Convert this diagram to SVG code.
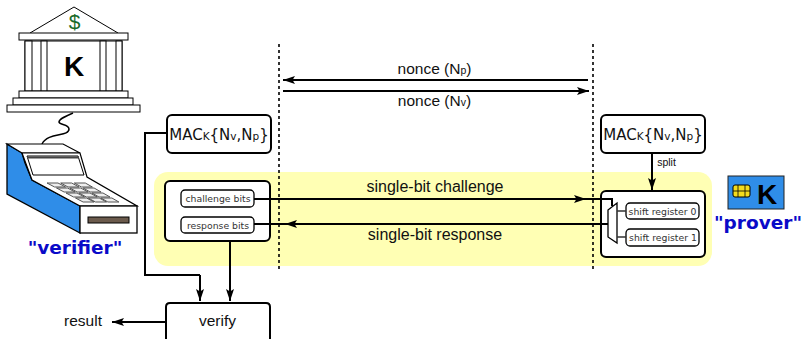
<svg xmlns="http://www.w3.org/2000/svg" width="801" height="339" viewBox="0 0 801 339">
<defs>
<marker id="ah" markerUnits="userSpaceOnUse" markerWidth="14" markerHeight="10" refX="12" refY="5" orient="auto"><path d="M0,1 L12,5 L0,9 L2.500,5 Z" fill="#000"/></marker>
</defs>
<style>
text{font-family:"DejaVu Sans",sans-serif;fill:#111}
.a{font-family:"Liberation Sans",sans-serif;font-size:15.500px;text-anchor:middle}
.box{fill:#fff;stroke:#000;stroke-width:2}
.sm{fill:#fff;stroke:#000;stroke-width:1.3}
.c{fill:none;stroke:#000;stroke-width:2}
.t{font-size:9.300px;text-anchor:middle;fill:#333}
.mac{font-size:15px;text-anchor:middle}
.s{fill:#fff;stroke:#000;stroke-width:1}
.dash{stroke:#000;stroke-width:1.6;stroke-dasharray:3 3;fill:none}
.lab{font-weight:bold;font-size:18.500px;fill:#0a0ac8;text-anchor:middle}
.k{font-family:"Liberation Sans",sans-serif;font-weight:bold;font-size:28px;text-anchor:middle;fill:#000}
</style>
<rect x="154" y="172" width="558" height="94" rx="14" fill="#ffffb4"/>
<g id="lifelines">
<path class="dash" d="M279,44V270"/>
<path class="dash" d="M593,44V270"/>
</g>
<g id="bank">
<path d="M30,33 L74,7 L118,33" fill="#fff" stroke="#000" stroke-width="1"/>
<text x="74.500" y="29" font-size="21" text-anchor="middle" style="fill:#1a6b2a;font-family:'Liberation Sans',sans-serif">$</text>
<rect class="s" x="25" y="41" width="97" height="50"/>
<rect class="s" x="25" y="41" width="7" height="50"/>
<rect class="s" x="41" y="41" width="6" height="50"/>
<rect class="s" x="100" y="41" width="6" height="50"/>
<rect class="s" x="116" y="41" width="6" height="50"/>
<rect class="s" x="19" y="33" width="109" height="7"/>
<rect class="s" x="19" y="91" width="109" height="7"/>
<rect class="s" x="13" y="98" width="120" height="7"/>
<rect class="s" x="7" y="105" width="133" height="7"/>
<text class="k" x="74" y="76">K</text>
</g>
<path id="cord" class="c" style="stroke-width:1.500" d="M73,113 C66,116 59,119 59,122 C59,125 69,124 69,129 C69,137 48,132 42,144"/>
<g id="terminal">
<path d="M7,144 L22,153 L25,163 L32,180 L80,206 V233 L7,194 Z" fill="#2f8de8" stroke="#000" stroke-width="1.300"/>
<path d="M7,144 L63,144 L80,153 L22,153 Z" fill="#fff" stroke="#000" stroke-width="1.200"/>
<path d="M22,153 L80,153 L87,177 L137,206 L80,206 L32,180 Z" fill="#fff" stroke="#000" stroke-width="1.200"/>
<path d="M27,156 L78,156 L84,175 L33,175 Z" fill="#fff" stroke="#000" stroke-width="1"/>
<path d="M27,157.500 L79,157.500" stroke="#444" stroke-width="2"/>
<path fill="#eee" stroke="#555" stroke-width="1" d="M47,183H58L65.600,187H54.600ZM60.700,183H71.700L79,187H68ZM74.300,183H85.300L92.400,187H81.400ZM56.500,188H67.500L75.100,192H64.100ZM69.800,188H80.800L88.100,192H77.100ZM83.100,188H94.100L101.100,192H90.100ZM66,193H77L84.600,197H73.600ZM79,193H90L97.300,197H86.300ZM92,193H103L110,197H99ZM75.500,198H86.500L94.100,202H83.100ZM88.200,198H99.200L106.500,202H95.500ZM100.900,198H111.900L118.900,202H107.900Z"/>
<rect x="80" y="206" width="57" height="27" fill="#fff" stroke="#000" stroke-width="1.300"/>
<rect x="88" y="217" width="41" height="6" fill="#6b5a4c" stroke="#000" stroke-width="1"/>
<text class="lab" x="75" y="254">"verifier"</text>
</g>
<g id="mac-v">
<rect class="box" x="167" y="115" width="104" height="38" rx="5"/>
<text class="mac" x="219" y="140">MAC<tspan font-size="10.500">K</tspan>{N<tspan font-size="10.500">v</tspan>,N<tspan font-size="10.500">p</tspan>}</text>
</g>
<g id="mac-p">
<rect class="box" x="601" y="115" width="104" height="38" rx="5"/>
<text class="mac" x="653" y="140">MAC<tspan font-size="10.500">K</tspan>{N<tspan font-size="10.500">v</tspan>,N<tspan font-size="10.500">p</tspan>}</text>
</g>
<g id="bits">
<rect class="box" x="165" y="181" width="105" height="60" rx="5"/>
<rect class="sm" x="181" y="190" width="73" height="17" rx="4"/>
<text class="t" x="218" y="201.500">challenge bits</text>
<rect class="sm" x="181" y="217" width="73" height="16" rx="4"/>
<text class="t" x="218" y="228.500">response bits</text>
</g>
<g id="registers">
<rect class="box" x="601" y="191" width="104" height="66" rx="5"/>
<rect class="sm" x="626" y="203" width="73" height="16" rx="4"/>
<text class="t" x="662.500" y="214.500">shift register 0</text>
<rect class="sm" x="626" y="229" width="73" height="17" rx="4"/>
<text class="t" x="663" y="240.500">shift register 1</text>
</g>
<g id="verify">
<path class="box" d="M166,339 V307 Q166,303 170,303 H266 Q270,303 270,307 V339"/>
<text class="a" x="217.500" y="326">verify</text>
</g>
<g id="card">
<rect x="728" y="176" width="56" height="33" fill="#2f8de8" stroke="#222" stroke-width="1"/>
<rect x="733" y="185" width="17" height="12" rx="2" fill="#f3dc1d" stroke="#000" stroke-width="1"/>
<path d="M738,185 V197 M745,185 V197 M733,191 H750" stroke="#000" stroke-width="0.800"/>
<text class="k" x="767" y="204">K</text>
<text class="lab" x="758" y="229">"prover"</text>
</g>
<g id="connectors">
<path class="c" marker-end="url(#ah)" d="M588,80 H283"/>
<path class="c" marker-end="url(#ah)" d="M283,91 H589"/>
<path class="c" d="M254,199 H612 V206"/>
<path class="c" marker-end="url(#ah)" d="M570,199 H586"/>
<path class="c" d="M608,224 H254"/>
<path class="c" marker-end="url(#ah)" d="M300,224 H285"/>
<path class="c" d="M167,133 H145 V275 H200"/>
<path class="c" marker-end="url(#ah)" d="M200,275 V301"/>
<path class="c" marker-end="url(#ah)" d="M230,241 V301"/>
<path class="c" marker-end="url(#ah)" d="M166,322 H112"/>
<path class="c" marker-end="url(#ah)" d="M652,153 V190"/>
<path d="M608,210 L617,203 V243 L608,237 Z" fill="#fff" stroke="#000" stroke-width="1.300"/>
<path d="M617,211 H626 M617,237 H626" stroke="#333" stroke-width="1.500" fill="none"/>
</g>
<g id="labels">
<text class="a" x="434.500" y="74">nonce (N<tspan font-size="10.500">p</tspan>)</text>
<text class="a" x="434.500" y="106">nonce (N<tspan font-size="10.500">v</tspan>)</text>
<text class="a" x="435" y="192" style="font-size:16px">single-bit challenge</text>
<text class="a" x="435" y="240" style="font-size:16px">single-bit response</text>
<text class="a" x="83" y="326">result</text>
<text class="a" x="666.500" y="166" style="font-size:10.500px">split</text>
</g>
</svg>
